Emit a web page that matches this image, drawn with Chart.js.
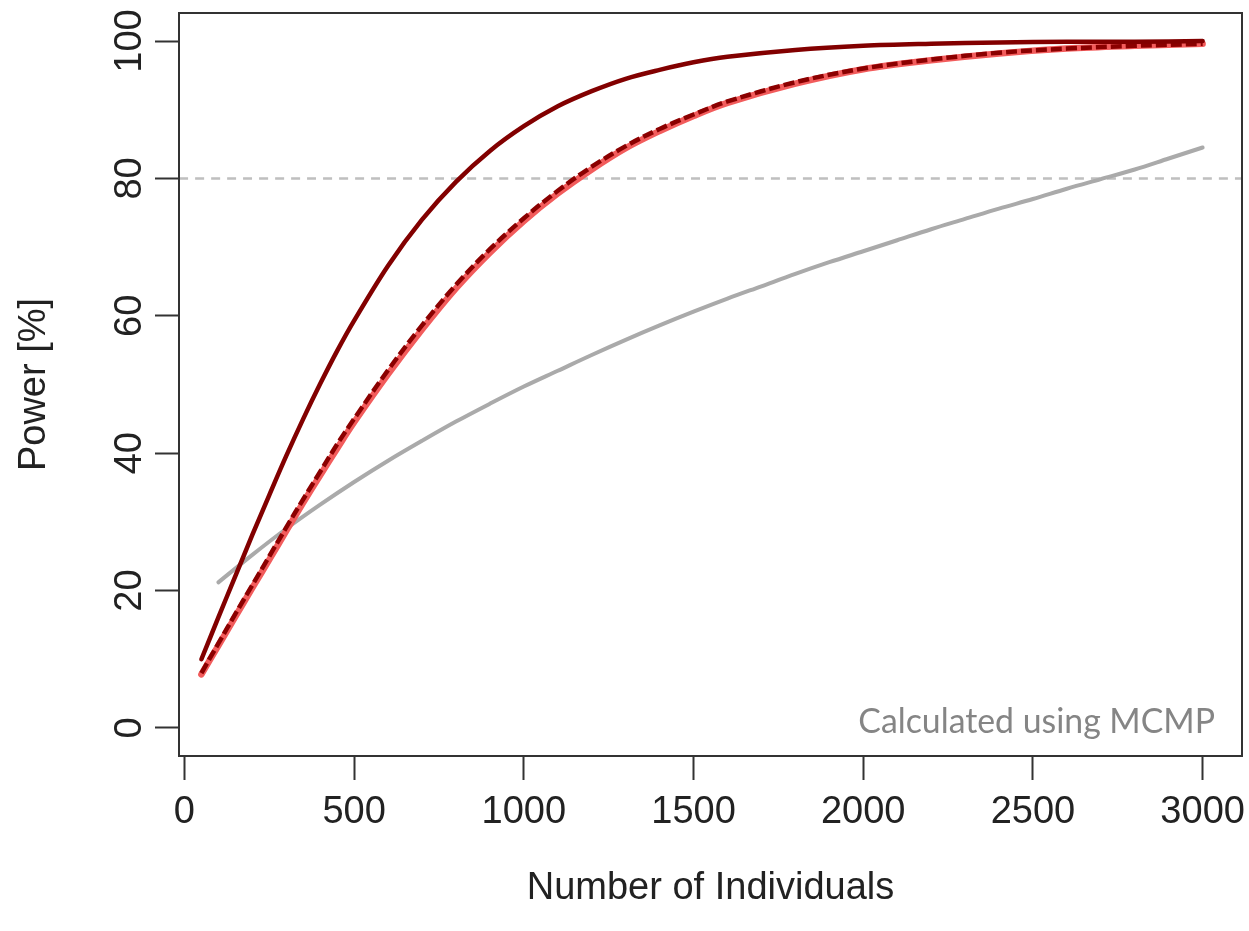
<!DOCTYPE html>
<html><head><meta charset="utf-8">
<script src="https://cdn.jsdelivr.net/npm/chart.js@4/dist/chart.umd.min.js"></script>
<style>html,body{margin:0;padding:0;background:#fff;} #wrap{width:1249px;height:931px;}</style>
</head><body><div id="wrap"><canvas id="c" width="1249" height="931"></canvas></div>
<script>
// ---- data ----
const individualsRed = [50,100,150,200,250,300,350,400,450,500,600,700,800,900,1000,1100,1200,1300,1400,1500,1600,1800,2000,2200,2400,2600,2800,3000];
const powerDarkSolid = [10.0,16.1,22.1,28.1,33.9,39.6,45.0,50.1,54.9,59.3,67.3,74.0,79.5,84.0,87.6,90.5,92.7,94.5,95.8,96.9,97.7,98.7,99.3,99.6,99.8,99.9,99.9,100.0];
const powerDashed    = [8.0,12.3,16.6,20.8,25.0,29.2,33.3,37.3,41.3,45.0,52.1,58.6,64.5,69.7,74.2,78.2,81.7,84.7,87.2,89.3,91.2,94.0,96.0,97.3,98.3,98.9,99.3,99.6];
const powerLightRed  = [7.8,12.0,16.2,20.4,24.5,28.7,32.8,36.8,40.7,44.5,51.5,58.0,64.0,69.2,73.8,77.8,81.3,84.4,86.9,89.1,91.0,93.8,95.9,97.2,98.2,98.9,99.3,99.6];
const individualsGrey = [100,200,300,400,500,600,700,800,900,1000,1100,1200,1300,1400,1500,1600,1700,1800,1900,2000,2100,2200,2300,2400,2500,2600,2700,2800,2900,3000];
const powerGrey = [21.2,25.2,29.0,32.5,35.8,38.9,41.8,44.6,47.2,49.7,52.0,54.3,56.5,58.6,60.6,62.5,64.3,66.1,67.8,69.4,71.0,72.6,74.1,75.6,77.0,78.5,79.9,81.3,82.9,84.5];
const targetPower = 80;
const xTickValues = [0,500,1000,1500,2000,2500,3000];
const yTickValues = [0,20,40,60,80,100];
const xLimits = [-16, 3116];
const yLimits = [-4.08, 104.08];
const xTitle = 'Number of Individuals';
const yTitle = 'Power [%]';
const noteText = 'Calculated using MCMP';

const pts = (xs, ys) => xs.map((x, i) => ({x: x, y: ys[i]}));
const axisFont = {family: "'Liberation Sans', Arial, sans-serif", size: 38};
const ink = '#222';

const boxPlugin = {
  id: 'box',
  afterDraw(chart) {
    const {ctx, chartArea: a} = chart;
    ctx.save();
    ctx.strokeStyle = '#333';
    ctx.lineWidth = 2;
    ctx.strokeRect(a.left, a.top, a.right - a.left, a.bottom - a.top);
    ctx.fillStyle = '#858585';
    ctx.textAlign = 'right';
    ctx.textBaseline = 'alphabetic';
    ctx.font = '100px Lato, "Open Sans", sans-serif';
    const w = ctx.measureText(noteText).width;
    const size = 100 * 357 / w;
    ctx.font = size.toFixed(1) + 'px Lato, "Open Sans", sans-serif';
    ctx.fillText(noteText, a.right - 27, a.bottom - 23);
    ctx.restore();
  }
};

new Chart(document.getElementById('c'), {
  type: 'line',
  data: {
    datasets: [
      {data: pts(individualsRed, powerDarkSolid), borderColor: '#820000', borderWidth: 4.5, borderCapStyle: 'round'},
      {data: pts(individualsRed, powerDashed), borderColor: '#8b0000', borderWidth: 4.5, borderDash: [11, 4]},
      {data: pts(individualsRed, powerLightRed), borderColor: '#f25c5c', borderWidth: 6.5, borderCapStyle: 'round'},
      {data: pts(individualsGrey, powerGrey), borderColor: '#aaaaaa', borderWidth: 4, borderCapStyle: 'round'},
      {data: pts(xLimits, [targetPower, targetPower]), borderColor: '#bfbfbf', borderWidth: 2.5, borderDash: [9, 7]}
    ]
  },
  options: {
    responsive: false,
    animation: false,
    devicePixelRatio: 1,
    layout: {padding: {left: 0, top: 13, right: 7, bottom: 0}},
    elements: {point: {radius: 0}, line: {tension: 0.35, fill: false}},
    plugins: {legend: {display: false}, tooltip: {enabled: false}},
    scales: {
      x: {
        type: 'linear', min: xLimits[0], max: xLimits[1],
        afterBuildTicks: s => { s.ticks = xTickValues.map(v => ({value: v})); },
        afterFit: s => { s.height = 175; s.paddingLeft = 0; s.paddingRight = 0; },
        grid: {display: true, drawOnChartArea: false, drawTicks: true, tickLength: 24, tickColor: '#333', tickWidth: 2},
        border: {display: true, color: '#333', width: 2},
        ticks: {font: axisFont, color: ink, padding: 10, maxRotation: 0, autoSkip: false, callback: v => String(v)},
        title: {display: true, text: xTitle, font: axisFont, color: ink, padding: {top: 0, bottom: 20}}
      },
      y: {
        type: 'linear', min: yLimits[0], max: yLimits[1],
        afterBuildTicks: s => { s.ticks = yTickValues.map(v => ({value: v})); },
        afterFit: s => { s.width = 179; s.paddingTop = 0; s.paddingBottom = 0; },
        grid: {display: true, drawOnChartArea: false, drawTicks: true, tickLength: 24, tickColor: '#333', tickWidth: 2},
        border: {display: true, color: '#333', width: 2},
        ticks: {font: axisFont, color: ink, padding: -7, minRotation: 90, maxRotation: 90, crossAlign: 'center', autoSkip: false, callback: v => String(v)},
        title: {display: true, text: yTitle, font: axisFont, color: ink, padding: {top: 12, bottom: 0}}
      }
    }
  },
  plugins: [boxPlugin]
});
</script>
</body></html>
